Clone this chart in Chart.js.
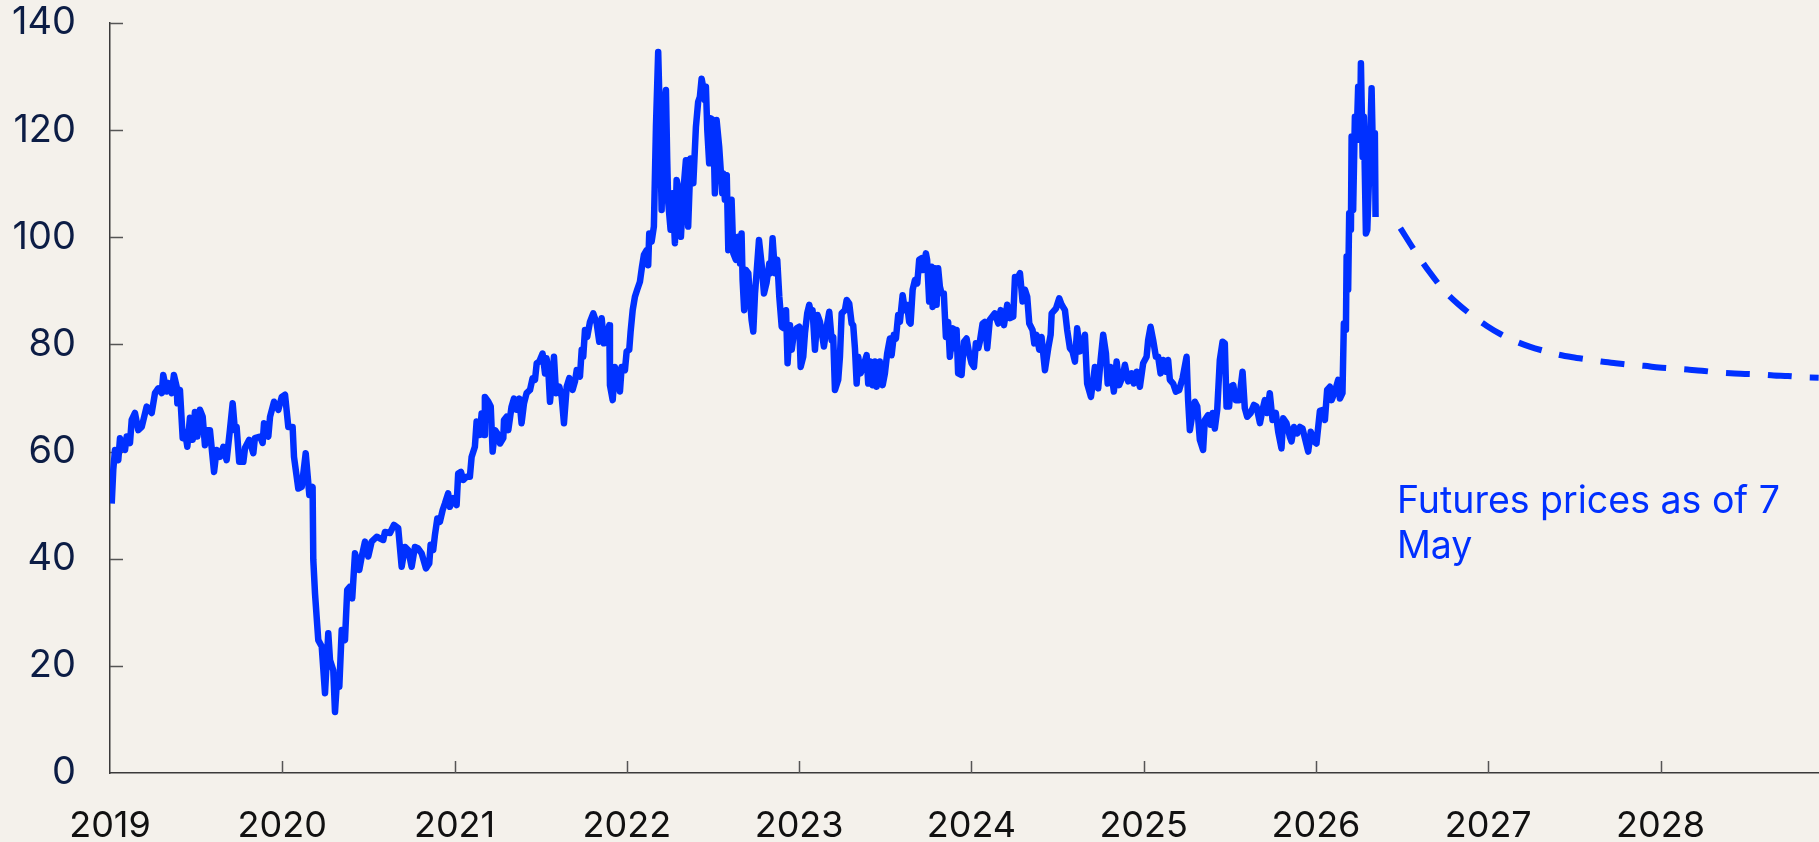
<!DOCTYPE html>
<html>
<head>
<meta charset="utf-8">
<script src="https://cdn.jsdelivr.net/npm/chart.js@4.4.1/dist/chart.umd.min.js"></script>
<style>
    html, body { margin: 0; padding: 0; background: #f4f1eb; }
    #wrap { position: relative; width: 1819px; height: 842px; }
</style>
</head>
<body>
<div id="wrap"><canvas id="chart-oil"></canvas></div>
<script>
// Ejes
const yearTicks = [2019, 2020, 2021, 2022, 2023, 2024, 2025, 2026, 2027, 2028];
const priceTicks = [0, 20, 40, 60, 80, 100, 120, 140];

// Precio spot: pares [año decimal, precio]
const spot2019 = [[2019.010,50.3],[2019.019,56.6],[2019.029,60.3],[2019.048,58.4],[2019.058,62.5],[2019.087,60.3],[2019.097,62.8],[2019.116,61.6],[2019.126,65.9],[2019.145,67.2],[2019.164,64],[2019.184,64.6],[2019.213,68.4],[2019.242,67.2],[2019.261,70.9],[2019.280,71.8],[2019.300,70.9],[2019.309,74.3],[2019.329,71.2],[2019.338,72.8],[2019.358,70.9],[2019.371,74.3],[2019.387,72.1],[2019.391,69],[2019.406,71.5],[2019.422,62.5],[2019.435,63.7],[2019.449,60.9],[2019.464,66.3],[2019.480,62.2],[2019.493,67.4],[2019.507,62.8],[2019.522,67.8],[2019.538,66.5],[2019.551,61.2],[2019.565,64],[2019.580,64],[2019.604,56.2],[2019.619,60.3],[2019.638,59],[2019.658,60.9],[2019.677,58.4],[2019.696,64],[2019.712,69],[2019.725,64],[2019.735,64.6],[2019.750,58.1],[2019.774,58.1],[2019.784,60.7],[2019.808,62.2],[2019.832,59.7],[2019.841,62.5],[2019.871,62.8],[2019.886,61.6],[2019.894,65.3],[2019.919,62.8],[2019.929,66.5],[2019.952,69.3],[2019.977,67.8],[2019.997,70.2]];
const spot2020 = [[2020.016,70.6],[2020.035,64.6],[2020.060,64.6],[2020.068,59],[2020.093,53.1],[2020.113,53.4],[2020.136,59.7],[2020.157,51.9],[2020.176,53.4],[2020.180,39.8],[2020.190,33.5],[2020.209,24.8],[2020.229,23.6],[2020.248,14.9],[2020.267,26.1],[2020.277,21.1],[2020.296,19.2],[2020.306,11.4],[2020.319,18],[2020.331,16.1],[2020.345,26.7],[2020.364,24.8],[2020.377,34.2],[2020.393,34.8],[2020.406,32.6],[2020.422,41],[2020.447,37.9],[2020.461,40.4],[2020.480,43.2],[2020.499,40.4],[2020.519,43.2],[2020.548,44.1],[2020.586,43.5],[2020.596,45],[2020.625,44.8],[2020.648,46.3],[2020.673,45.7],[2020.693,38.5],[2020.712,42.2],[2020.731,41.6],[2020.751,38.5],[2020.770,42.2],[2020.789,41.9],[2020.809,41],[2020.834,38.2],[2020.853,39.1],[2020.861,42.6],[2020.876,41.6],[2020.886,44.4],[2020.900,47.5],[2020.915,46.9],[2020.931,49.1],[2020.944,50.3],[2020.963,52.2],[2020.973,49.7],[2020.993,51.3]];
const spot2021 = [[2021.012,50],[2021.021,55.9],[2021.037,56.2],[2021.051,54.7],[2021.070,55.3],[2021.089,55.3],[2021.099,59],[2021.118,60.9],[2021.128,65.6],[2021.147,63.1],[2021.157,67.1],[2021.171,63.1],[2021.176,70.2],[2021.196,69.3],[2021.210,68.4],[2021.221,60],[2021.235,64],[2021.248,63.4],[2021.264,61.5],[2021.283,62.5],[2021.287,65.9],[2021.302,66.5],[2021.312,64],[2021.331,68.4],[2021.345,69.9],[2021.360,67.8],[2021.376,69.9],[2021.389,65.3],[2021.403,69],[2021.418,70.9],[2021.438,71.5],[2021.453,73.7],[2021.467,73.4],[2021.477,76.5],[2021.492,76.8],[2021.511,78.3],[2021.525,74.6],[2021.534,77.4],[2021.544,75.2],[2021.554,69.3],[2021.569,74.6],[2021.577,77.7],[2021.589,70.9],[2021.608,72.1],[2021.622,70.2],[2021.635,65.3],[2021.651,72.1],[2021.666,73.7],[2021.685,71.5],[2021.699,73.1],[2021.709,75.2],[2021.728,74],[2021.738,79],[2021.747,77.7],[2021.757,82.7],[2021.770,81.4],[2021.786,84.2],[2021.805,85.8],[2021.825,83.9],[2021.840,80.5],[2021.854,84.9],[2021.867,80.2],[2021.883,81.4],[2021.898,83.6],[2021.902,72.4],[2021.918,69.6],[2021.931,75.8],[2021.944,74],[2021.960,71.2],[2021.970,75.8],[2021.989,75.2],[2021.999,78.7]];
const spot2022 = [[2022.014,79],[2022.022,82.4],[2022.034,86.4],[2022.047,88.9],[2022.060,90.2],[2022.076,91.7],[2022.088,94.5],[2022.099,96.7],[2022.115,97.6],[2022.124,94.8],[2022.130,100.7],[2022.144,99.2],[2022.157,102],[2022.169,120.6],[2022.182,134.6],[2022.192,121.9],[2022.202,105.1],[2022.211,122.5],[2022.227,127.5],[2022.234,115],[2022.240,106.6],[2022.254,101.4],[2022.266,108.2],[2022.279,98.9],[2022.289,110.7],[2022.304,108.2],[2022.314,100.1],[2022.327,108.2],[2022.343,114.4],[2022.356,102],[2022.370,114.7],[2022.386,110.1],[2022.401,120.6],[2022.414,125.3],[2022.424,126.2],[2022.434,129.6],[2022.443,128.1],[2022.453,125.6],[2022.459,128.1],[2022.467,120],[2022.478,113.8],[2022.486,122.2],[2022.501,121.9],[2022.511,108.2],[2022.521,121.9],[2022.536,116.9],[2022.554,108.2],[2022.559,111.9],[2022.569,107],[2022.580,111.6],[2022.589,97.6],[2022.598,102.6],[2022.608,107],[2022.618,97],[2022.633,95.8],[2022.647,100.1],[2022.657,95.1],[2022.666,100.7],[2022.672,92],[2022.681,86.4],[2022.691,93.9],[2022.705,93.3],[2022.714,88.9],[2022.724,84.6],[2022.734,82.4],[2022.744,89.5],[2022.753,93.3],[2022.767,99.5],[2022.782,95.1],[2022.796,89.5],[2022.811,91.5],[2022.827,95.1],[2022.835,93.3],[2022.846,99.8],[2022.860,93.3],[2022.873,95.8],[2022.885,88.9],[2022.899,83.3],[2022.912,83],[2022.924,86.4],[2022.933,76.5],[2022.947,83.6],[2022.957,79],[2022.970,82.1],[2022.986,83]];
const spot2023 = [[2023.001,83.3],[2023.009,75.8],[2023.024,77.7],[2023.034,82.1],[2023.047,85.8],[2023.059,87.4],[2023.069,85.8],[2023.078,86.4],[2023.092,79],[2023.107,85.5],[2023.121,84.2],[2023.132,82.1],[2023.144,79.6],[2023.160,83.3],[2023.175,86.1],[2023.189,80.8],[2023.198,81.4],[2023.208,71.5],[2023.227,73.4],[2023.237,77.7],[2023.247,85.8],[2023.266,86.4],[2023.276,88.3],[2023.291,87.6],[2023.305,83.9],[2023.314,83.6],[2023.324,79.3],[2023.334,72.7],[2023.343,77.7],[2023.357,74.6],[2023.372,75.8],[2023.392,78],[2023.401,72.7],[2023.415,76.8],[2023.427,72.4],[2023.440,76.8],[2023.450,72.1],[2023.469,76.8],[2023.485,72.4],[2023.498,74.6],[2023.511,78.3],[2023.527,81.1],[2023.537,78],[2023.550,81.8],[2023.562,81.1],[2023.575,85.5],[2023.585,84.2],[2023.601,89.2],[2023.614,86.4],[2023.627,87.4],[2023.639,84.2],[2023.647,83.9],[2023.659,90.2],[2023.672,92],[2023.686,91.4],[2023.697,95.8],[2023.711,96.1],[2023.720,93.9],[2023.736,97],[2023.743,95.8],[2023.755,88],[2023.769,94.5],[2023.775,87],[2023.788,94.2],[2023.798,87.4],[2023.807,94.2],[2023.817,90.8],[2023.827,89.5],[2023.840,89.5],[2023.852,81.4],[2023.865,84.2],[2023.875,77.7],[2023.894,83],[2023.904,79.3],[2023.914,82.7],[2023.923,74.6],[2023.943,74.3],[2023.957,80.5],[2023.972,81.1],[2023.987,78.3]];
const spot2024 = [[2024.001,76.5],[2024.015,75.8],[2024.026,80.2],[2024.040,79.3],[2024.049,80.5],[2024.065,83.9],[2024.078,84.2],[2024.092,79.3],[2024.107,84.6],[2024.136,85.8],[2024.156,83.9],[2024.170,86.4],[2024.189,83.6],[2024.208,87.4],[2024.224,84.9],[2024.243,85.2],[2024.253,92.6],[2024.266,92.3],[2024.282,93.3],[2024.297,88],[2024.311,90.2],[2024.324,88.9],[2024.336,83.9],[2024.355,82.7],[2024.365,80.2],[2024.378,81.8],[2024.394,79],[2024.407,81.4],[2024.427,75.2],[2024.446,79.3],[2024.460,81.8],[2024.466,85.8],[2024.491,86.7],[2024.510,88.6],[2024.524,87.4],[2024.543,86.4],[2024.556,82.7],[2024.572,79.3],[2024.587,78.7],[2024.601,76.8],[2024.614,83],[2024.630,78.7],[2024.640,79],[2024.659,81.8],[2024.672,72.7],[2024.694,70.2],[2024.717,75.8],[2024.736,71.8],[2024.750,77.1],[2024.765,81.8],[2024.781,78.3],[2024.791,72.7],[2024.808,75.8],[2024.827,71.2],[2024.843,76.8],[2024.858,72.4],[2024.878,74],[2024.891,76.2],[2024.910,73.1],[2024.930,74.6],[2024.943,72.7],[2024.959,74.9],[2024.978,72.1],[2024.997,76.5]];
const spot2025 = [[2025.017,77.7],[2025.026,80.8],[2025.040,83.3],[2025.055,80.8],[2025.071,77.7],[2025.084,77.7],[2025.098,74.6],[2025.113,77.1],[2025.129,74.9],[2025.142,77.1],[2025.152,73.4],[2025.171,72.7],[2025.187,71.2],[2025.206,71.5],[2025.226,73.7],[2025.249,77.7],[2025.258,69.6],[2025.268,64],[2025.284,67.2],[2025.297,69.3],[2025.311,68.4],[2025.326,62.2],[2025.345,60.3],[2025.355,65.9],[2025.374,66.8],[2025.388,65],[2025.400,67.2],[2025.413,64.3],[2025.427,67.8],[2025.442,77.1],[2025.458,80.5],[2025.471,80.2],[2025.481,68.4],[2025.496,68.4],[2025.504,72.1],[2025.520,72.4],[2025.535,69.6],[2025.554,69.6],[2025.574,74.9],[2025.587,68.1],[2025.601,66.5],[2025.621,67.2],[2025.640,68.7],[2025.655,68.4],[2025.675,65.3],[2025.690,67.8],[2025.703,69.6],[2025.717,67.2],[2025.732,70.9],[2025.748,65.9],[2025.767,67.2],[2025.781,63.7],[2025.800,60.6],[2025.810,66.2],[2025.829,65.3],[2025.848,62.8],[2025.858,61.9],[2025.872,64.6],[2025.891,63.4],[2025.907,64.6],[2025.922,64.3],[2025.936,62.5],[2025.955,60],[2025.970,63.7],[2025.988,61.9]];
const spot2026 = [[2026.003,61.5],[2026.023,67.6],[2026.042,67.8],[2026.052,65.9],[2026.065,71.5],[2026.081,72.1],[2026.091,69.6],[2026.110,71.2],[2026.129,73.4],[2026.139,69.9],[2026.154,70.9],[2026.162,83.9],[2026.174,82.7],[2026.178,96.4],[2026.187,90.2],[2026.193,104.5],[2026.203,101.4],[2026.207,118.8],[2026.216,105.1],[2026.226,122.5],[2026.236,118.2],[2026.245,128.1],[2026.255,118.2],[2026.261,132.5],[2026.271,115],[2026.278,122.5],[2026.290,100.7],[2026.298,101.4],[2026.309,111.9],[2026.323,127.8],[2026.333,111.9],[2026.342,119.4],[2026.346,103.8]];

// Futuros al 7 de mayo (contratos mensuales)
const futuresT = [2026.490,2026.573,2026.657,2026.740,2026.823,2026.907,2026.990,2027.073,2027.157,2027.240,2027.323,2027.407,2027.490,2027.573,2027.657,2027.740,2027.823,2027.907,2027.990,2028.073,2028.157,2028.240,2028.323,2028.407,2028.490,2028.573,2028.657,2028.740,2028.823,2028.918];
const futuresV = [101.7,97.5,93.6,90.2,87.6,85.4,83.5,81.9,80.6,79.6,78.8,78.1,77.6,77.2,76.8,76.5,76.2,76.0,75.7,75.5,75.3,75.1,74.8,74.6,74.5,74.4,74.2,74.1,73.9,73.8];

const noteLines = ['Futures prices as of 7', 'May'];
const noteAt = { x: 2026.47, y: 48.5 };

const AZUL = '#0030ff';
const FUENTE = 'Inter';

const spotData = [].concat(spot2019, spot2020, spot2021, spot2022, spot2023, spot2024, spot2025, spot2026)
    .map(p => ({ x: p[0], y: p[1] }));
const futuresData = futuresT.map((t, i) => ({ x: t, y: futuresV[i] }));

// Marcas de los ejes hacia dentro y nota de futuros
const marcasYNota = {
    id: 'marcasYNota',
    beforeDatasetsDraw(chart) {
        const { ctx, chartArea, scales } = chart;
        ctx.save();
        ctx.strokeStyle = '#555';
        ctx.lineWidth = 1.5;
        ctx.beginPath();
        priceTicks.forEach(v => {
            if (v === 0) return;
            const py = Math.round(scales.y.getPixelForValue(v)) + 0.5;
            ctx.moveTo(chartArea.left, py);
            ctx.lineTo(chartArea.left + 13, py);
        });
        yearTicks.forEach(v => {
            if (v === yearTicks[0]) return;
            const px = Math.round(scales.x.getPixelForValue(v)) + 0.5;
            ctx.moveTo(px, chartArea.bottom);
            ctx.lineTo(px, chartArea.bottom - 12);
        });
        ctx.stroke();
        ctx.restore();
    },
    afterDraw(chart) {
        const { ctx, scales } = chart;
        const nx = scales.x.getPixelForValue(noteAt.x);
        const ny = scales.y.getPixelForValue(noteAt.y);
        ctx.save();
        ctx.fillStyle = AZUL;
        ctx.font = '37.5px ' + FUENTE;
        ctx.textAlign = 'left';
        ctx.textBaseline = 'alphabetic';
        noteLines.forEach((t, i) => ctx.fillText(t, nx, ny + i * 45));
        ctx.restore();
    }
};

const ctx = document.getElementById('chart-oil').getContext('2d');
new Chart(ctx, {
    type: 'line',
    data: {
        datasets: [{
            label: 'Spot',
            data: spotData,
            borderColor: AZUL,
            borderWidth: 6.5,
            pointRadius: 0,
            tension: 0,
            borderJoinStyle: 'round',
            borderCapStyle: 'butt',
            fill: false
        }, {
            label: 'Futures',
            data: futuresData,
            borderColor: AZUL,
            borderWidth: 6,
            borderDash: [24, 18],
            pointRadius: 0,
            tension: 0.3,
            borderCapStyle: 'butt',
            fill: false
        }]
    },
    options: {
        responsive: true,
        maintainAspectRatio: false,
        animation: false,
        layout: { padding: { top: 23, right: 0, left: 0, bottom: 0 } },
        plugins: {
            legend: { display: false },
            tooltip: { enabled: false }
        },
        scales: {
            x: {
                type: 'linear',
                min: 2019,
                max: 2028.92,
                afterBuildTicks: scale => { scale.ticks = yearTicks.map(v => ({ value: v })); },
                afterFit: scale => {
                    scale.height = 69;
                    scale.paddingLeft = 0;
                    scale.paddingRight = 0;
                },
                border: { display: true, color: '#3a3a3a', width: 1.5 },
                grid: { display: false, drawTicks: false },
                ticks: {
                    autoSkip: false,
                    maxRotation: 0,
                    padding: 32,
                    color: '#111111',
                    font: { family: FUENTE, size: 36 },
                    callback: v => String(v)
                }
            },
            y: {
                min: 0,
                max: 140,
                afterBuildTicks: scale => { scale.ticks = priceTicks.map(v => ({ value: v })); },
                afterFit: scale => {
                    scale.width = 110;
                    scale.paddingTop = 0;
                    scale.paddingBottom = 0;
                },
                border: { display: true, color: '#3a3a3a', width: 1.5 },
                grid: { display: false, drawTicks: false },
                ticks: {
                    padding: 34,
                    color: '#0c1d45',
                    font: { family: FUENTE, size: 38 },
                    callback: v => String(v)
                }
            }
        }
    },
    plugins: [marcasYNota]
});
</script>
</body>
</html>
